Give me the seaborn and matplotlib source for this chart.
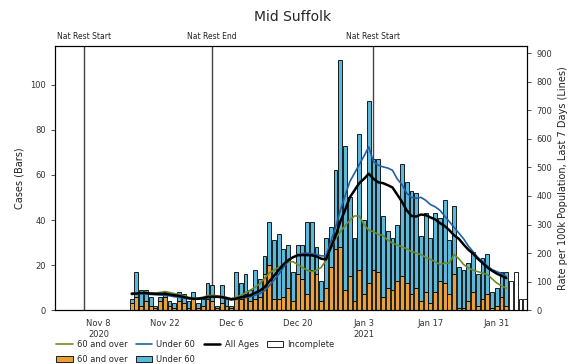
import numpy as np
import pandas as pd
import matplotlib
matplotlib.use("Agg")
import matplotlib.pyplot as plt
import matplotlib.transforms as mtransforms
from matplotlib.lines import Line2D
from matplotlib.patches import Patch
import seaborn as sns

sns.set_theme(style="white")
plt.rcParams['font.family'] = ['DejaVu Sans']

# ---------------- data ----------------
start_date = "2020-11-15"
over60_cases = [3, 6, 2, 4, 2, 1, 4,
                6, 2, 1, 4, 3, 1, 5,
                1, 2, 5, 4, 1, 3, 2,
                1, 6, 5, 7, 4, 5, 6,
                16, 20, 5, 5, 6, 10, 4,
                16, 14, 7, 18, 16, 4, 10,
                19, 27, 28, 9, 15, 4, 18,
                7, 12, 18, 17, 6, 10, 9,
                13, 15, 12, 7, 10, 4, 8,
                3, 8, 13, 12, 7, 16, 1,
                1, 4, 8, 2, 5, 7, 1,
                2, 6, 2]
under60_cases = [2, 11, 7, 5, 4, 1, 2,
                 2, 2, 2, 4, 4, 3, 3,
                 2, 3, 7, 7, 1, 8, 3,
                 1, 11, 7, 9, 5, 13, 8,
                 8, 19, 26, 29, 21, 19, 13,
                 13, 15, 32, 21, 12, 9, 22,
                 18, 35, 83, 64, 35, 28, 60,
                 33, 81, 49, 50, 36, 25, 23,
                 25, 50, 45, 46, 42, 29, 35,
                 29, 35, 28, 37, 24, 30, 18,
                 17, 17, 18, 14, 18, 18, 7,
                 8, 11, 15]
incomplete_start = "2021-02-03"
incomplete_cases = [13, 17, 5, 5]

rate_all = [58, 58, 60, 60, 58, 57, 57,
            57, 55, 52, 50, 46, 42, 40,
            40, 42, 46, 47, 47, 46, 42,
            38, 40, 45, 48, 52, 60, 68,
            80, 100, 120, 140, 160, 175, 185,
            192, 193, 193, 192, 188, 180, 178,
            220, 260, 310, 350, 395, 420, 445,
            460, 478, 460, 448, 445, 438, 430,
            405, 380, 350, 330, 328, 335, 333,
            325, 318, 305, 295, 280, 262, 250,
            230, 212, 198, 180, 165, 150, 138,
            128, 120, 112]
rate_under60 = [55, 56, 58, 57, 55, 54, 53,
                52, 50, 47, 45, 42, 40, 38,
                38, 40, 44, 45, 45, 44, 40,
                36, 38, 42, 44, 47, 52, 58,
                68, 85, 105, 125, 150, 172, 185,
                195, 198, 200, 198, 195, 190, 190,
                240, 290, 350, 400, 450, 480, 510,
                540, 572, 520, 508, 502, 498, 490,
                460, 440, 410, 395, 392, 395, 385,
                370, 362, 350, 330, 310, 290, 270,
                250, 225, 205, 185, 170, 155, 142,
                135, 128, 118]
rate_over60 = [55, 58, 62, 62, 60, 60, 62,
               65, 62, 58, 55, 50, 45, 42,
               42, 45, 50, 52, 50, 48, 45,
               40, 45, 52, 60, 70, 80, 92,
               110, 130, 140, 150, 160, 168, 170,
               160, 150, 140, 135, 140, 150, 175,
               215, 250, 275, 295, 315, 330, 330,
               300, 280, 275, 265, 262, 245, 235,
               228, 222, 215, 205, 200, 195, 185,
               178, 170, 160, 165, 165, 195, 180,
               160, 148, 140, 135, 130, 125, 110,
               95, 85, 77]

events = ["2020-11-05", "2020-12-02", "2021-01-05"]
event_labels = ["Nat Rest Start", "Nat Rest End", "Nat Rest Start"]

tick_dates = ["2020-11-08", "2020-11-22", "2020-12-06", "2020-12-20",
              "2021-01-03", "2021-01-17", "2021-01-31"]
tick_labels = ["Nov 8\n2020", "Nov 22", "Dec 6", "Dec 20", "Jan 3\n2021", "Jan 17", "Jan 31"]

# ---------------- styling ----------------
c_orange = "#E8A13A"
c_blue_bar = "#5BB8D8"
c_line_blue = "#1F5FA8"
c_line_green = "#6E8B2A"

dates = pd.date_range(start_date, periods=len(over60_cases))
inc_dates = pd.date_range(incomplete_start, periods=len(incomplete_cases))
over = np.array(over60_cases)
under = np.array(under60_cases)

fig = plt.figure(figsize=(5.71, 3.64), dpi=100)
ax = fig.add_axes([0.0963, 0.148, 0.827, 0.726])

ax.bar(dates, over, width=0.8, color=c_orange, edgecolor="black", linewidth=0.6, zorder=2)
ax.bar(dates, under, bottom=over, width=0.8, color=c_blue_bar, edgecolor="black",
       linewidth=0.6, zorder=2)
ax.bar(inc_dates, incomplete_cases, width=0.8, color="white", edgecolor="black",
       linewidth=0.6, zorder=2)

trans = mtransforms.blended_transform_factory(ax.transData, ax.transAxes)
for d, lab in zip(events, event_labels):
    ax.axvline(pd.Timestamp(d), color="#444444", lw=1.0, zorder=1)
    ax.text(pd.Timestamp(d), 1.018, lab, transform=trans, ha="center", va="bottom",
            fontsize=5.5, color="#222222")

ax.set_ylim(0, 117.3)
ax.set_yticks([0, 20, 40, 60, 80, 100])
ax.set_xlim(pd.Timestamp("2020-10-29 20:00"), pd.Timestamp("2021-02-06 10:00"))
ax.set_xticks([pd.Timestamp(t) for t in tick_dates])
ax.set_xticklabels(tick_labels)
ax.set_ylabel("Cases (Bars)", fontsize=7, color="#222222")
ax.tick_params(axis="both", labelsize=6, colors="#333333", length=3, width=0.6)

ax2 = ax.twinx()
df = pd.DataFrame({"date": dates, "over": rate_over60, "under": rate_under60, "all": rate_all})
sns.lineplot(data=df, x="date", y="over", ax=ax2, color=c_line_green, lw=1.2, legend=False)
sns.lineplot(data=df, x="date", y="under", ax=ax2, color=c_line_blue, lw=1.2, legend=False)
sns.lineplot(data=df, x="date", y="all", ax=ax2, color="black", lw=1.8, legend=False)
ax2.set_ylim(0, 926)
ax2.set_yticks(range(0, 1000, 100))
ax2.set_ylabel("Rate per 100k Population, Last 7 Days (Lines)", fontsize=7, color="#222222")
ax2.set_xlabel("")
ax2.tick_params(axis="y", labelsize=6, colors="#333333", length=3, width=0.6)
ax2.set_xlim(ax.get_xlim())

for a in (ax, ax2):
    for s in a.spines.values():
        s.set_color("black")
        s.set_linewidth(0.8)

fig.text(0.513, 0.953, "Mid Suffolk", ha="center", va="center", fontsize=10)

handles = [Line2D([], [], color=c_line_green, lw=1.2),
           Patch(facecolor=c_orange, edgecolor="black", lw=0.6),
           Line2D([], [], color=c_line_blue, lw=1.2),
           Patch(facecolor=c_blue_bar, edgecolor="black", lw=0.6),
           Line2D([], [], color="black", lw=1.8),
           Patch(facecolor="white", edgecolor="black", lw=0.6)]
labels = ["60 and over", "60 and over", "Under 60", "Under 60", "All Ages", "Incomplete"]
fig.legend(handles, labels, loc="upper left", bbox_to_anchor=(0.092, 0.075), ncol=4,
           frameon=False, fontsize=6, columnspacing=1.0, handlelength=2.0,
           handletextpad=0.5, labelspacing=0.75, borderaxespad=0)

fig.savefig("out.png", dpi=100)
